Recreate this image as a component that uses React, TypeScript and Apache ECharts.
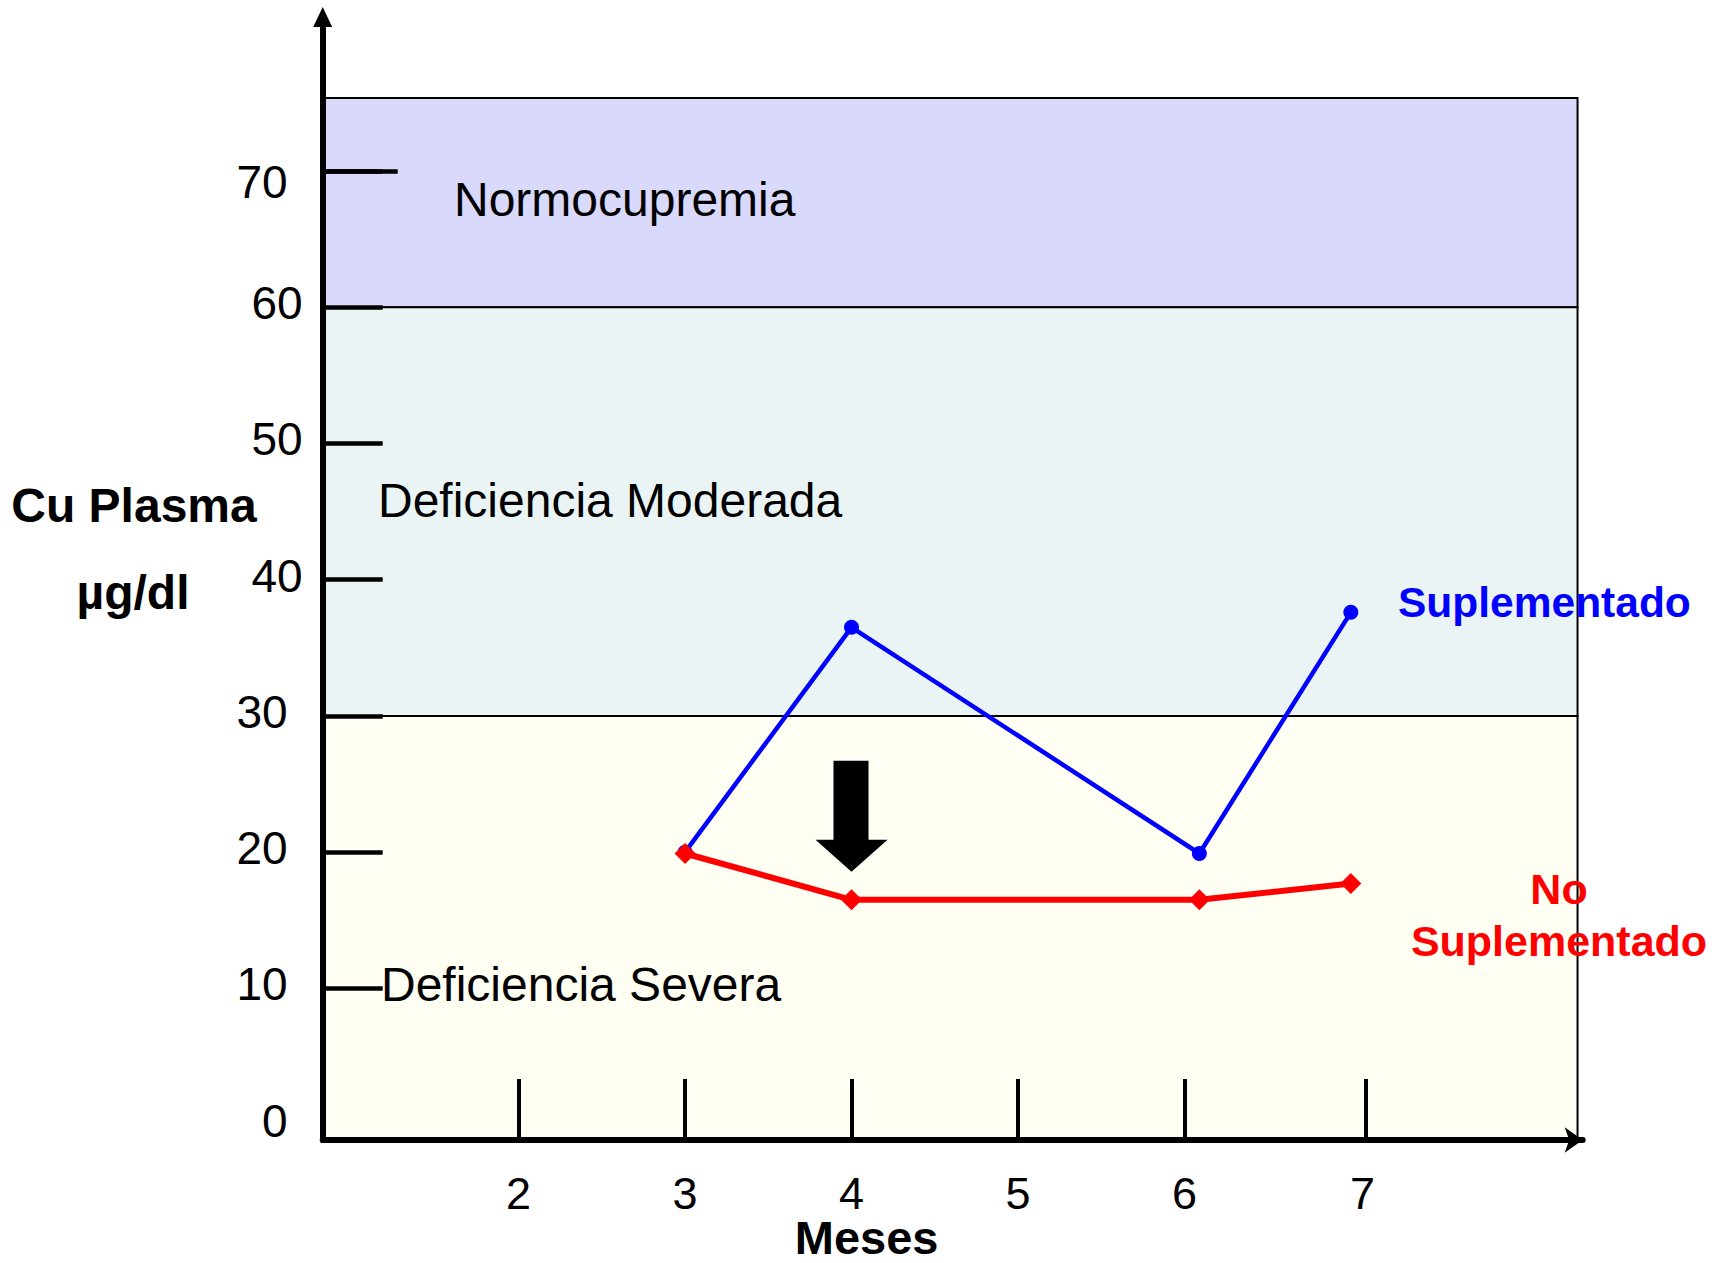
import React, { useEffect, useRef } from "react";
import * as echarts from "echarts";

// ---- data ----
const months = [3, 4, 6.09, 7];
const suplementado = [20, 36.5, 19.9, 37.6];
const noSuplementado = [19.9, 16.5, 16.5, 17.7];

const yLabelValues = [0, 10, 20, 30, 40, 50, 60, 70];
const yTickValues = [10, 20, 30, 40, 50, 60, 70];
const xTickValues = [2, 3, 4, 5, 6, 7.09];
const xLabelValues = [2, 3, 4, 5, 6, 7.07];

const bandNames = ["Normocupremia", "Deficiencia Moderada", "Deficiencia Severa"];
const bandLow = [60, 30, -1.13];
const bandHigh = [75.35, 60, 30];
const bandColors = ["#d9d9fc", "#eaf4f4", "#fefef2"];

const arrowMonth = 4;
const arrowValue = 22.63;

// ---- axis extents ----
const yMin = -1.13;
const yMax = 81.3;
const xMin = 0.823;
const xMax = 8.393;
const bandRight = 8.362;

const FONT = '"Liberation Sans", Arial, sans-serif';

export default function App() {
  const ref = useRef<HTMLDivElement>(null);

  useEffect(() => {
    if (!ref.current) return;
    const chart = echarts.init(ref.current, null, { renderer: "svg" });

    const markAreaData = bandNames.map((name, i) => [
      {
        name,
        xAxis: xMin,
        yAxis: bandLow[i],
        itemStyle: { color: bandColors[i], borderColor: "#000", borderWidth: 2 },
      },
      { xAxis: bandRight, yAxis: bandHigh[i] },
    ]);

    const txt = (
      text: string,
      x: number,
      y: number,
      size: number,
      weight: string,
      color: string,
      align: string,
      lh?: number
    ) => ({
      type: "text",
      x,
      y,
      z: 100,
      silent: true,
      style: {
        text,
        fill: color,
        fontSize: size,
        fontWeight: weight,
        fontFamily: FONT,
        font: `${weight} ${size}px ${FONT}`,
        lineHeight: lh ?? Math.round(size * 0.85),
        align,
        verticalAlign: "middle",
        textAlign: align,
        textVerticalAlign: "middle",
      },
    });

    const option: any = {
      animation: false,
      backgroundColor: "#ffffff",
      textStyle: { fontFamily: FONT },
      grid: { left: 322.7, right: 1721 - 1582.7, top: 17, bottom: 1263 - 1140, containLabel: false },
      xAxis: {
        type: "value",
        min: xMin,
        max: xMax,
        z: 10,
        splitLine: { show: false },
        axisLine: {
          show: true,
          onZero: false,
          lineStyle: { color: "#000", width: 6 },
          symbol: ["none", "arrow"],
          symbolSize: [19, 18],
        },
        axisTick: {
          show: true,
          inside: true,
          length: 61,
          customValues: xTickValues,
          lineStyle: { color: "#000", width: 4 },
        },
        axisLabel: {
          show: true,
          customValues: xLabelValues,
          margin: 36,
          fontSize: 45,
          lineHeight: 34,
          color: "#000",
          fontFamily: FONT,
          formatter: (v: number) => String(Math.round(v)),
        },
      },
      yAxis: [
        {
          type: "value",
          min: yMin,
          max: yMax,
          z: 10,
          splitLine: { show: false },
          axisLine: {
            show: true,
            onZero: false,
            lineStyle: { color: "#000", width: 6 },
            symbol: ["none", "triangle"],
            symbolSize: [19, 20],
          },
          axisTick: {
            show: true,
            inside: true,
            length: 60,
            customValues: yTickValues,
            lineStyle: { color: "#000", width: 4.5 },
          },
          axisLabel: {
            show: true,
            customValues: yLabelValues,
            margin: 20,
            fontSize: 46,
            color: "#000",
            fontFamily: FONT,
            formatter: (v: number) => {
              if (v === 70) return `{c|${v}}`;
              if (v === 40 || v === 50 || v === 60) return `{b|${v}}`;
              return `{a|${v}}`;
            },
            rich: {
              a: { fontSize: 46, fontFamily: FONT, color: "#000", padding: [0, 15, 8, 0] },
              b: { fontSize: 46, fontFamily: FONT, color: "#000", padding: [0, 0, 8, 0] },
              c: { fontSize: 46, fontFamily: FONT, color: "#000", padding: [22, 15, 0, 0] },
            },
          },
        },
        {
          type: "value",
          min: yMin,
          max: yMax,
          z: 11,
          position: "left",
          splitLine: { show: false },
          axisLine: { show: false, onZero: false },
          axisLabel: { show: false },
          axisTick: {
            show: true,
            inside: true,
            length: 75,
            customValues: [70],
            lineStyle: { color: "#000", width: 4.5 },
          },
        },
      ],
      series: [
        {
          name: "bands",
          type: "line",
          z: 1,
          data: [],
          silent: true,
          markArea: {
            silent: true,
            label: { show: false },
            emphasis: { disabled: true },
            data: markAreaData,
          },
        },
        {
          name: "Suplementado",
          type: "line",
          z: 3,
          data: months.map((m, i) => [m, suplementado[i]]),
          color: "#0000ff",
          lineStyle: { color: "#0000ff", width: 4.5 },
          itemStyle: { color: "#0000ff" },
          symbol: "circle",
          symbolSize: 15,
          silent: true,
        },
        {
          name: "No Suplementado",
          type: "line",
          z: 4,
          data: months.map((m, i) => [m, noSuplementado[i]]),
          color: "#ff0000",
          lineStyle: { color: "#ff0000", width: 6 },
          itemStyle: { color: "#ff0000" },
          symbol: "diamond",
          symbolSize: [21, 21],
          silent: true,
          markPoint: {
            silent: true,
            symbol: "path://M18,0L53,0L53,79L72,79L36,111L0,79L18,79Z",
            symbolSize: [72, 111],
            itemStyle: { color: "#000" },
            label: { show: false },
            data: [{ coord: [arrowMonth, arrowValue] }],
          },
        },
      ],
      graphic: [
        txt(bandNames[0], 454, 199, 48, "normal", "#000", "left"),
        txt(bandNames[1], 378, 500, 48, "normal", "#000", "left"),
        txt(bandNames[2], 381, 984, 48, "normal", "#000", "left"),
        txt("Suplementado", 1398, 602, 42.5, "bold", "#0000ff", "left"),
        txt("No", 1559, 889, 43, "bold", "#ff0000", "center"),
        txt("Suplementado", 1559, 941, 43, "bold", "#ff0000", "center"),
        txt("Cu Plasma", 134, 505, 48, "bold", "#000", "center"),
        txt("µg/dl", 133, 592, 48, "bold", "#000", "center"),
        txt("Meses", 866.6, 1237, 47, "bold", "#000", "center", 34),
      ],
    };

    chart.setOption(option);
    return () => chart.dispose();
  }, []);

  return (
    <div
      ref={ref}
      style={{ position: "fixed", left: 0, top: 0, width: 1721, height: 1263, background: "#fff" }}
    />
  );
}
